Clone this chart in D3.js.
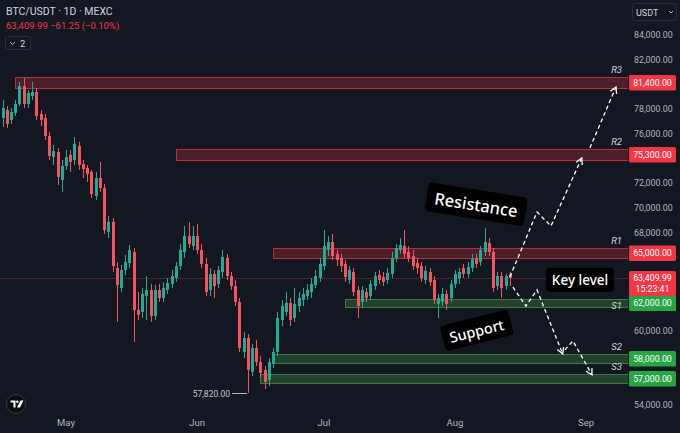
<!DOCTYPE html>
<html><head><meta charset="utf-8">
<script src="https://cdn.jsdelivr.net/npm/d3@7"></script>
<style>
html,body{margin:0;padding:0;background:#131722;overflow:hidden;}
svg{display:block;font-family:Roboto,"Noto Sans",sans-serif;}
</style></head><body>
<svg id="c" width="680" height="433"></svg>
<script>
// ---------------- DATA ----------------
const firstDay = "2024-04-15", lastDayExcl = "2024-08-15"; // daily candles
const opens = [77120,77280,77930,77120,77690,78420,79870,78420,79060,79390,
77610,77280,75820,74120,74530,72260,73390,74290,73880,75010,
73560,73230,72910,70960,72420,71610,68050,68860,65130,63510,
64970,65540,66430,61730,61570,62860,63350,61240,63350,62700,
63350,63840,64320,65290,66430,67720,66910,67720,66590,65460,
63350,64650,63840,64810,65940,64480,63670,62380,58330,59460,
56710,58650,57520,56870,56060,57360,58330,60920,61570,62300,
61080,62050,62540,62860,63190,63760,64320,65290,66590,67240,
66270,65940,65460,64160,64810,63350,62380,63190,62860,63670,
64570,64400,64160,64650,65940,66590,66910,66430,66100,65540,
65290,64160,64810,64160,62220,62380,63030,62700,63840,64320,
65130,64650,65130,65940,65620,66430,67160,66430,63670,64480,
63670,64650];
const highs = [78340,78740,78250,78090,78740,80200,80520,79550,80200,79710,
77930,77610,76150,75100,74850,73880,74690,74690,75740,75340,
73880,73480,73070,72910,73720,71940,69340,69180,65620,65380,
66190,67000,66750,63190,63510,64480,63840,63760,63840,64000,
64320,64970,65620,67080,68530,68860,68530,68700,67080,65940,
65130,64970,65290,66590,66270,64810,64160,62700,59950,59790,
58980,59300,58000,57190,57840,58650,61570,62540,63190,62700,
63510,63190,63510,63840,64320,64970,65940,68210,67720,67890,
66590,66270,65780,65290,65130,63670,63670,63510,64160,64810,
64970,64810,65130,66430,67080,67560,68210,66910,66590,65940,
65620,65290,65130,64480,63030,63510,63350,64160,64970,65130,
65460,65620,66270,66270,66910,68370,67560,66750,64810,64810,
64650,64810];
const lows = [76720,76550,76470,76800,77440,78250,78090,78090,78740,77120,
76630,75500,73880,73480,71860,71290,73070,72910,73480,73070,
72420,72100,70800,70640,71290,67890,67560,64810,60760,63190,
64570,65130,59140,60920,61080,60920,60760,60920,62380,62380,
63030,63510,64000,64970,65940,66750,66590,66270,65130,62860,
62860,62700,63510,64320,64160,63350,62050,58330,57840,55010,
56380,57190,56220,55330,55570,57030,58000,60430,61240,60430,
60760,61570,62050,62540,62700,63510,64000,64970,66100,65780,
65290,64810,64000,63840,62860,61080,61890,62380,62540,63350,
63840,63670,63840,64320,65620,66270,65940,65620,64970,64650,
64000,63840,63670,62220,61080,62050,61730,62380,63510,63840,
64320,64320,64810,65130,65290,66100,66100,63190,63350,62700,
63350,63670];
const closes = [77930,78090,76800,77770,78420,79870,78420,79310,79390,77440,
77120,75820,74200,74610,72500,73390,74120,73720,75180,73480,
73150,72750,71130,72420,71610,68210,68860,65290,63760,64970,
65620,66590,61730,61330,63030,63350,61240,63350,62700,63510,
63920,64480,65290,66590,67720,67080,67720,66590,65460,63190,
64650,63670,64970,66020,64480,63670,62380,58650,59460,56870,
58650,57520,56630,55900,57520,58330,61080,62050,62300,60920,
62220,62700,63030,63350,63840,64480,65460,66910,67240,66100,
65780,65290,64400,64970,63190,62050,63350,62700,63840,64480,
64160,64000,64730,65940,66750,67000,66270,65940,65290,65130,
64320,64890,64000,62540,62700,63030,62220,63840,64650,64810,
64650,65210,65860,65460,66590,67240,66430,63510,64480,63510,
64480,64320];

const monthTicks = ["2024-05-01","2024-06-01","2024-07-01","2024-08-01","2024-09-01"];
const monthLabels = ["May","Jun","Jul","Aug","Sep"];
const priceTicks = [84000,82000,78000,76000,72000,70000,68000,60000,54000];

const levelNames  = ["R3","R2","R1","S1","S2","S3"];
const levelLabels = ["81,400.00","75,300.00","65,000.00","62,000.00","58,000.00","57,000.00"];
const levelTop    = [80600,74770,66750,62620,58170,56550];
const levelBottom = [79700,73880,65940,61970,57440,55820];
const levelStart  = ["2024-04-19","2024-05-27","2024-06-19","2024-07-06","2024-06-19","2024-06-16"];
const levelKind   = ["r","r","r","s","s","s"];

const lowMarkText = "57,820.00";
const lastPriceText = "63,409.99";
const countdownText = "15:23:41";
const titleText = "BTC/USDT · 1D · MEXC";
const quoteText = "63,409.99  −61.25 (−0.10%)";

const arrowUp1   = [["2024-08-14T00:00",64400],["2024-08-20T10:00",69670],["2024-08-23T17:00",68530],["2024-08-31T00:00",74040]];
const arrowUp2   = [["2024-09-01T22:00",74850],["2024-09-08T02:00",79790]];
const arrowDown1 = [["2024-08-14T17:00",63590],["2024-08-17T19:00",62050],["2024-08-20T10:00",63350],["2024-08-26T12:00",58170]];
const arrowDown2 = [["2024-08-27T00:00",58500],["2024-08-28T22:00",59220],["2024-09-02T10:00",56470]];

const annoText  = ["Resistance","Key level","Support"];
const annoDate  = ["2024-08-06T00:00","2024-08-30T14:00","2024-08-06T04:00"];
const annoPrice = [70230,64160,60000];

// ---------------- DRAW ----------------
const pD = d3.timeParse("%Y-%m-%d"), pT = d3.timeParse("%Y-%m-%dT%H:%M");
const svg = d3.select("#c");
const W = 680, H = 433, plotR = 628;
const UP = "#22ab94", DN = "#f7525f";

svg.append("rect").attr("width",W).attr("height",H).attr("fill","#131722");

const x = d3.scaleTime().domain([pD("2024-05-01"), pD("2024-09-01")]).range([66,586]);
const y = d3.scaleLinear().domain([54000,84000]).range([405.4,35.06]);

const days = d3.timeDay.range(pD(firstDay), pD(lastDayExcl));
const candles = days.map((d,i)=>({d, o:opens[i], h:highs[i], l:lows[i], c:closes[i]}));

const plot = svg.append("g");
plot.append("clipPath").attr("id","clip").append("rect").attr("x",0).attr("y",0).attr("width",plotR).attr("height",410);
const pg = plot.append("g").attr("clip-path","url(#clip)");

// last price line
const last = candles[candles.length-1];
pg.append("line").attr("x1",0).attr("x2",plotR).attr("y1",Math.round(y(last.c))+0.5).attr("y2",Math.round(y(last.c))+0.5)
  .attr("stroke","#f23645").attr("stroke-opacity",0.55).attr("stroke-dasharray","1,1");

// level bands
levelNames.forEach((n,i)=>{
  const red = levelKind[i]==="r";
  const x0 = x(pD(levelStart[i]));
  const y0 = y(levelTop[i]), y1 = y(levelBottom[i]);
  pg.append("rect").attr("x",Math.round(x0)+0.5).attr("y",Math.round(y0)+0.5)
    .attr("width",plotR-Math.round(x0)).attr("height",Math.round(y1-y0))
    .attr("fill", red ? "rgba(242,54,69,0.26)" : "rgba(67,160,71,0.32)")
    .attr("stroke", red ? "rgba(242,54,69,0.7)" : "rgba(76,175,80,0.6)").attr("stroke-width",1);
});

// candles
const cg = pg.append("g");
candles.forEach(k=>{
  const cx = Math.round(x(k.d));
  const col = k.c >= k.o ? UP : DN;
  cg.append("line").attr("x1",cx+0.5).attr("x2",cx+0.5).attr("y1",y(k.h)).attr("y2",y(k.l)).attr("stroke",col).attr("stroke-width",1);
  const yt = y(Math.max(k.o,k.c)), yb = y(Math.min(k.o,k.c));
  cg.append("rect").attr("x",cx-1).attr("y",yt).attr("width",3).attr("height",Math.max(1,yb-yt)).attr("fill",col);
});

// level name labels (S1 sits at the band's lower edge, the others above their band)
levelNames.forEach((n,i)=>{
  const yy = n==="S1" ? y(levelBottom[i])+2 : y(levelTop[i])-4;
  pg.append("text").attr("x",622).attr("y",yy).attr("text-anchor","end")
    .attr("font-size",9.5).attr("font-style","italic").attr("fill","#d1d4dc").text(n);
});

// low marker
const lowC = candles.reduce((a,b)=> b.l < a.l ? b : a);
const lx = Math.round(x(lowC.d)), ly = Math.round(y(lowC.l))+0.5;
pg.append("line").attr("x1",lx-16).attr("x2",lx-1).attr("y1",ly).attr("y2",ly).attr("stroke","#b2b5be").attr("stroke-width",1);
pg.append("text").attr("x",lx-18).attr("y",ly+3).attr("text-anchor","end").attr("font-size",8.5).attr("fill","#c3c6ce").text(lowMarkText);

// arrows
const line = d3.line().x(d=>x(pT(d[0]))).y(d=>y(d[1]));
function arrow(pts){
  pg.append("path").attr("d",line(pts)).attr("fill","none").attr("stroke","#fff").attr("stroke-width",1.3).attr("stroke-dasharray","4,3");
  const a = pts[pts.length-2], b = pts[pts.length-1];
  const xa=x(pT(a[0])), ya=y(a[1]), xb=x(pT(b[0])), yb=y(b[1]);
  const ang = Math.atan2(yb-ya, xb-xa), L=7, s=0.5;
  const p1=[xb-L*Math.cos(ang-s), yb-L*Math.sin(ang-s)], p2=[xb-L*Math.cos(ang+s), yb-L*Math.sin(ang+s)];
  pg.append("path").attr("d",`M${p1[0]},${p1[1]}L${xb},${yb}L${p2[0]},${p2[1]}`).attr("fill","none").attr("stroke","#fff").attr("stroke-width",1.3);
}
[arrowUp1,arrowUp2,arrowDown1,arrowDown2].forEach(arrow);

// annotations
const annoAngle = [9,0,-14], annoSize=[16.5,13.5,14.5], annoPad=[8,6,7];
annoText.forEach((t,i)=>{
  const g = pg.append("g").attr("transform",`translate(${x(pT(annoDate[i]))},${y(annoPrice[i])}) rotate(${annoAngle[i]})`);
  const r = g.append("rect").attr("fill","#000").attr("rx",4);
  const tx = g.append("text").attr("text-anchor","middle").attr("dy","0.35em").attr("font-size",annoSize[i])
    .attr("font-weight",500).attr("fill","#fff").attr("font-family","'Noto Sans',Roboto,sans-serif").text(t);
  const bb = tx.node().getBBox();
  r.attr("x",bb.x-annoPad[i]).attr("y",bb.y-3).attr("width",bb.width+2*annoPad[i]).attr("height",bb.height+6);
});

// right axis
const axG = svg.append("g").attr("transform","translate(634,0)");
priceTicks.forEach(v=>{
  axG.append("text").attr("x",0).attr("y",y(v)).attr("dy","0.35em").attr("font-size",8.8).attr("fill","#b2b5be").text(d3.format(",.2f")(v));
});
// level label boxes
levelLabels.forEach((t,i)=>{
  const cy = (y(levelTop[i])+y(levelBottom[i]))/2;
  const red = levelKind[i]==="r";
  svg.append("rect").attr("x",629).attr("y",cy-7.5).attr("width",47).attr("height",15.5).attr("rx",1.5)
    .attr("fill", red ? "#f23645" : "#26a643");
  svg.append("text").attr("x",652.5).attr("y",cy+0.3).attr("dy","0.35em").attr("text-anchor","middle")
    .attr("font-size",8.8).attr("fill","#fff").text(t);
});
// last price box
const lpY = y(last.c);
svg.append("rect").attr("x",629).attr("y",lpY-7).attr("width",47).attr("height",25).attr("rx",1.5).attr("fill","#f23645");
svg.append("text").attr("x",652.5).attr("y",lpY).attr("dy","0.35em").attr("text-anchor","middle").attr("font-size",8.8).attr("fill","#fff").text(lastPriceText);
svg.append("text").attr("x",652.5).attr("y",lpY+11).attr("dy","0.35em").attr("text-anchor","middle").attr("font-size",8.8).attr("fill","#fff").text(countdownText);

// bottom axis
monthTicks.forEach((m,i)=>{
  svg.append("text").attr("x",x(pD(m))).attr("y",423).attr("dy","0.35em").attr("text-anchor","middle")
    .attr("font-size",9.5).attr("fill","#b2b5be").text(monthLabels[i]);
});

// header
svg.append("text").attr("x",6).attr("y",15).attr("font-size",10.5).attr("fill","#d1d4dc").text(titleText);
svg.append("text").attr("x",6).attr("y",29).attr("font-size",9.5).attr("fill","#f23645").text(quoteText);
svg.append("rect").attr("x",5.5).attr("y",36.5).attr("width",25).attr("height",13).attr("rx",2).attr("fill","none").attr("stroke","#2a2e39");
svg.append("path").attr("d","M10,42 L12.5,44.5 L15,42").attr("fill","none").attr("stroke","#b2b5be").attr("stroke-width",1);
svg.append("text").attr("x",20).attr("y",47).attr("font-size",9.5).attr("fill","#d1d4dc").text("2");

// USDT dropdown
svg.append("rect").attr("x",632.5).attr("y",3.5).attr("width",44).attr("height",17).attr("rx",3).attr("fill","#131722").attr("stroke","#2a2e39");
svg.append("text").attr("x",636).attr("y",15.5).attr("font-size",9).attr("fill","#d1d4dc").text("USDT");
svg.append("path").attr("d","M669,11 L671,13 L673,11").attr("fill","none").attr("stroke","#b2b5be").attr("stroke-width",1);

// TV logo
svg.append("circle").attr("cx",16).attr("cy",404).attr("r",9.5).attr("fill","#0b0d12").attr("stroke","#363a45");
svg.append("path").attr("d","M10.5,400.5 h5 v7 h-2 v-5 h-3 z M20.5,400.5 h3 l-3.5,7 h-3 z").attr("fill","#fff");
svg.append("circle").attr("cx",17.3).attr("cy",401.8).attr("r",1.2).attr("fill","#fff");
</script>
</body></html>
